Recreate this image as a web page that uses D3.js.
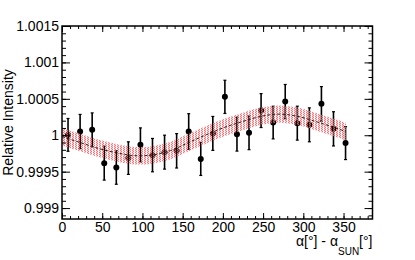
<!DOCTYPE html>
<html>
<head>
<meta charset="utf-8">
<script src="https://cdn.jsdelivr.net/npm/d3@7"></script>
<style>
  body { margin: 0; background: #fff; }
  text { font-family: "Liberation Sans", Arial, sans-serif; }
</style>
</head>
<body>
<svg></svg>
<script>
// data
var angles = [7.5, 22.5, 37.5, 52.5, 67.5, 82.5, 97.5, 112.5, 127.5, 142.5, 157.5, 172.5,
  187.5, 202.5, 217.5, 232.5, 247.5, 262.5, 277.5, 292.5, 307.5, 322.5, 337.5, 352.5];
var intensity = [1.000005, 1.000051, 1.000074, 0.999617, 0.999557, 0.999686, 0.999868, 0.999727,
  0.999768, 0.999786, 1.000051, 0.999675, 1.000025, 1.000527, 1.000015, 1.000033,
  1.000339, 1.000174, 1.000462, 1.000166, 1.000143, 1.000431, 1.000088, 0.999892];
var errors = [0.000225, 0.000235, 0.000233, 0.000233, 0.00023, 0.000224, 0.000233, 0.000229,
  0.000233, 0.000236, 0.000245, 0.000227, 0.000233, 0.000228, 0.000233, 0.000231,
  0.000233, 0.000224, 0.000235, 0.000233, 0.000233, 0.000237, 0.000235, 0.000226];

// fit curve and its uncertainty band
var fitAngles = [0, 22.5, 45, 67.5, 90, 112.5, 135, 157.5, 180, 202.5, 225, 247.5, 270, 292.5, 315, 337.5, 353];
var fitValues = [0.99998, 0.9999, 0.99982, 0.99976, 0.99972, 0.99973, 0.99979, 0.9999, 1.00001,
  1.00011, 1.00019, 1.00026, 1.00029, 1.00026, 1.00019, 1.00011, 1.00005];
var fitBand = 0.00012;

var xTicks = [0, 50, 100, 150, 200, 250, 300, 350];
var yTicks = [0.999, 0.9995, 1, 1.0005, 1.001, 1.0015];
var yTickLabels = ["0.999", "0.9995", "1", "1.0005", "1.001", "1.0015"];

var width = 415,
  height = 260;
var padL = 62, padR = 372.5, padT = 26, padB = 219;

var svg = d3.select("svg").attr("width", width).attr("height", height);

var x = d3.scaleLinear().domain([0, 386]).range([padL, padR]);
var y = d3.scaleLinear().domain([0.99885, 1.0015]).range([padB, padT]);

var defs = svg.append("defs");
var pat = defs.append("pattern")
  .attr("id", "hatch")
  .attr("patternUnits", "userSpaceOnUse")
  .attr("width", 3)
  .attr("height", 2);
pat.append("rect").attr("x", 0).attr("y", 0).attr("width", 1).attr("height", 1).attr("fill", "#e8202a");
pat.append("rect").attr("x", 1).attr("y", 1).attr("width", 1).attr("height", 1).attr("fill", "#e8202a");
pat.append("rect").attr("x", 0).attr("y", 1).attr("width", 1).attr("height", 1).attr("fill", "#f6b8b8");
pat.append("rect").attr("x", 1).attr("y", 0).attr("width", 1).attr("height", 1).attr("fill", "#f6b8b8");

var fit = fitAngles.map(function (a, i) { return { a: a, v: fitValues[i] }; });
var pts = angles.map(function (a, i) { return { a: a, v: intensity[i], e: errors[i] }; });

// error bars and markers
var g = svg.append("g");
g.selectAll(".err")
  .data(pts)
  .join("line")
  .attr("x1", function (d) { return x(d.a); })
  .attr("x2", function (d) { return x(d.a); })
  .attr("y1", function (d) { return y(d.v - d.e); })
  .attr("y2", function (d) { return y(d.v + d.e); })
  .attr("stroke", "#000")
  .attr("stroke-width", 1.6);

[-1, 1].forEach(function (s) {
  g.selectAll(".cap" + s)
    .data(pts)
    .join("line")
    .attr("x1", function (d) { return x(d.a) - 1.5; })
    .attr("x2", function (d) { return x(d.a) + 1.5; })
    .attr("y1", function (d) { return y(d.v + s * d.e); })
    .attr("y2", function (d) { return y(d.v + s * d.e); })
    .attr("stroke", "#000")
    .attr("stroke-width", 1.2);
});

g.selectAll("circle")
  .data(pts)
  .join("circle")
  .attr("cx", function (d) { return x(d.a); })
  .attr("cy", function (d) { return y(d.v); })
  .attr("r", 3)
  .attr("fill", "#000");

// band
var area = d3.area()
  .curve(d3.curveCatmullRom)
  .x(function (d) { return x(d.a); })
  .y0(function (d) { return y(d.v - fitBand); })
  .y1(function (d) { return y(d.v + fitBand); });

svg.append("path")
  .datum(fit)
  .attr("d", area)
  .attr("fill", "url(#hatch)")
  .attr("opacity", 0.6);

var line = d3.line()
  .curve(d3.curveCatmullRom)
  .x(function (d) { return x(d.a); })
  .y(function (d) { return y(d.v); });

svg.append("path")
  .datum(fit)
  .attr("d", line)
  .attr("fill", "none")
  .attr("stroke", "#222")
  .attr("stroke-width", 1)
  .attr("stroke-dasharray", "3,2");

// axes
function styleAxis(sel) {
  sel.select(".domain").remove();
  sel.selectAll("line").attr("stroke", "#000").attr("stroke-width", 1);
  sel.selectAll("text").attr("font-size", "14px").attr("fill", "#000")
    .attr("font-family", "Liberation Sans, Arial, sans-serif");
}

var xMinor = d3.range(0, 390, 10);
var yMinor = d3.range(0.9989, 1.00151, 0.0001);

svg.append("g").attr("transform", "translate(0," + padB + ")")
  .call(d3.axisBottom(x).tickValues(xMinor).tickSize(-3).tickFormat(""))
  .call(styleAxis);
svg.append("g").attr("transform", "translate(0," + padB + ")")
  .call(d3.axisBottom(x).tickValues(xTicks).tickSize(-6).tickPadding(3).tickFormat(d3.format("d")))
  .call(styleAxis);
svg.append("g").attr("transform", "translate(0," + padT + ")")
  .call(d3.axisTop(x).tickValues(xMinor).tickSize(-3).tickFormat(""))
  .call(styleAxis);
svg.append("g").attr("transform", "translate(0," + padT + ")")
  .call(d3.axisTop(x).tickValues(xTicks).tickSize(-6).tickFormat(""))
  .call(styleAxis);

svg.append("g").attr("transform", "translate(" + padL + ",0)")
  .call(d3.axisLeft(y).tickValues(yMinor).tickSize(-4).tickFormat(""))
  .call(styleAxis);
svg.append("g").attr("transform", "translate(" + padL + ",0)")
  .call(d3.axisLeft(y).tickValues(yTicks).tickSize(-8).tickPadding(3)
    .tickFormat(function (d, i) { return yTickLabels[i]; }))
  .call(styleAxis);
svg.append("g").attr("transform", "translate(" + padR + ",0)")
  .call(d3.axisRight(y).tickValues(yMinor).tickSize(-4).tickFormat(""))
  .call(styleAxis);
svg.append("g").attr("transform", "translate(" + padR + ",0)")
  .call(d3.axisRight(y).tickValues(yTicks).tickSize(-8).tickFormat(""))
  .call(styleAxis);

// frame
svg.append("rect")
  .attr("x", padL)
  .attr("y", padT)
  .attr("width", padR - padL)
  .attr("height", padB - padT)
  .attr("fill", "none")
  .attr("stroke", "#000")
  .attr("stroke-width", 1.5);

// titles
svg.append("text")
  .attr("transform", "translate(13," + (padT + padB) / 2 + ") rotate(-90)")
  .attr("text-anchor", "middle")
  .attr("font-size", "14px")
  .text("Relative Intensity");

var xt = svg.append("text")
  .attr("x", padR)
  .attr("y", 246)
  .attr("text-anchor", "end")
  .attr("font-size", "14px");
xt.append("tspan").text("α[°] - α");
xt.append("tspan").attr("dy", 9).attr("font-size", "10px").text("SUN");
xt.append("tspan").attr("dy", -9).text("[°]");
</script>
</body>
</html>
